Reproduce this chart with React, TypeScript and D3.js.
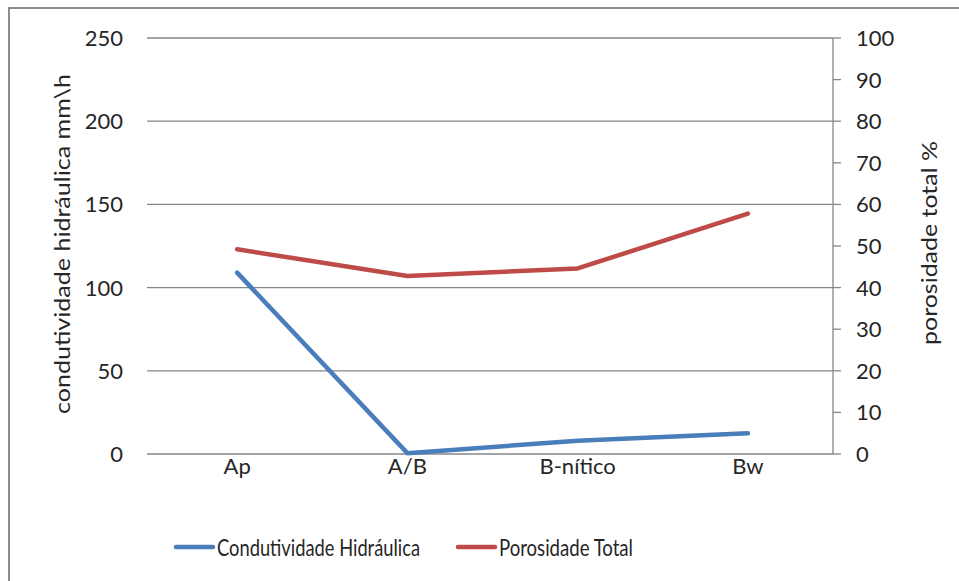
import React from "react";
import * as d3 from "d3";

const categories = ["Ap", "A/B", "B-nítico", "Bw"];
const condutividade = [109, 0.5, 8, 12.4];
const porosidade = [49.2, 42.8, 44.6, 57.8];
const leftTicks = [0, 50, 100, 150, 200, 250];
const rightTicks = [0, 10, 20, 30, 40, 50, 60, 70, 80, 90, 100];

const W = 959;
const H = 581;
const FONT = "Lato, 'Open Sans', sans-serif";

export default function App() {
  const left = 152;
  const right = 833;
  const top = 38;
  const bottom = 454;

  const x = d3.scaleBand<string>().domain(categories).range([left, right]);
  const yL = d3.scaleLinear().domain([0, 250]).range([bottom, top]);
  const yR = d3.scaleLinear().domain([0, 100]).range([bottom, top]);

  const cx = (c: string) => (x(c) as number) + x.bandwidth() / 2;

  const lineL = d3
    .line<number>()
    .x((_, i) => cx(categories[i]))
    .y((d) => yL(d));
  const lineR = d3
    .line<number>()
    .x((_, i) => cx(categories[i]))
    .y((d) => yR(d));

  const grid = "#868686";
  const blue = "#4A7EBB";
  const red = "#BE4B48";
  const ink = "#262626";

  return (
    <svg
      width={W}
      height={H}
      style={{ position: "absolute", left: 0, top: 0, background: "#fff" }}
      fontFamily={FONT}
    >
      <rect x={9} y={8} width={W + 20} height={H + 20} fill="#fff" stroke="#8c8c8c" strokeWidth={2} />

      {leftTicks.map((t) => (
        <g key={"l" + t}>
          <line x1={left - 5} x2={right} y1={yL(t)} y2={yL(t)} stroke={grid} strokeWidth={1.3} />
          <text x={123} y={yL(t)} dy="0.36em" textAnchor="end" fontSize={22} fill={ink}>
            {t}
          </text>
        </g>
      ))}

      <line x1={right} x2={right} y1={top} y2={bottom} stroke={grid} strokeWidth={1.3} />
      {rightTicks.map((t) => (
        <g key={"r" + t}>
          <line x1={right} x2={right + 8} y1={yR(t)} y2={yR(t)} stroke={grid} strokeWidth={1.3} />
          <text x={856} y={yR(t)} dy="0.36em" textAnchor="start" fontSize={22} fill={ink}>
            {t}
          </text>
        </g>
      ))}

      {categories.map((c) => (
        <text key={c} x={cx(c)} y={466} dy="0.36em" textAnchor="middle" fontSize={22} fill={ink}>
          {c}
        </text>
      ))}

      <text
        transform={`translate(62,244) rotate(-90)`}
        textAnchor="middle"
        dy="0.36em"
        fontSize={22}
        fill={ink}
        textLength={340}
        lengthAdjust="spacingAndGlyphs"
      >
        condutividade hidráulica mm\h
      </text>
      <text
        transform={`translate(929,243) rotate(-90)`}
        textAnchor="middle"
        dy="0.36em"
        fontSize={22}
        fill={ink}
        textLength={204}
        lengthAdjust="spacingAndGlyphs"
      >
        porosidade total %
      </text>

      <path d={lineL(condutividade) || ""} fill="none" stroke={blue} strokeWidth={4.5} strokeLinejoin="round" strokeLinecap="round" />
      <path d={lineR(porosidade) || ""} fill="none" stroke={red} strokeWidth={4.5} strokeLinejoin="round" strokeLinecap="round" />

      <g>
        <line x1={176} x2={213} y1={547} y2={547} stroke={blue} strokeWidth={4.5} strokeLinecap="round" />
        <text x={217} y={547} dy="0.36em" fontSize={24} fill={ink} textLength={203} lengthAdjust="spacingAndGlyphs">
          Condutividade Hidráulica
        </text>
        <line x1={458} x2={495} y1={547} y2={547} stroke={red} strokeWidth={4.5} strokeLinecap="round" />
        <text x={499} y={547} dy="0.36em" fontSize={24} fill={ink} textLength={134} lengthAdjust="spacingAndGlyphs">
          Porosidade Total
        </text>
      </g>
    </svg>
  );
}
